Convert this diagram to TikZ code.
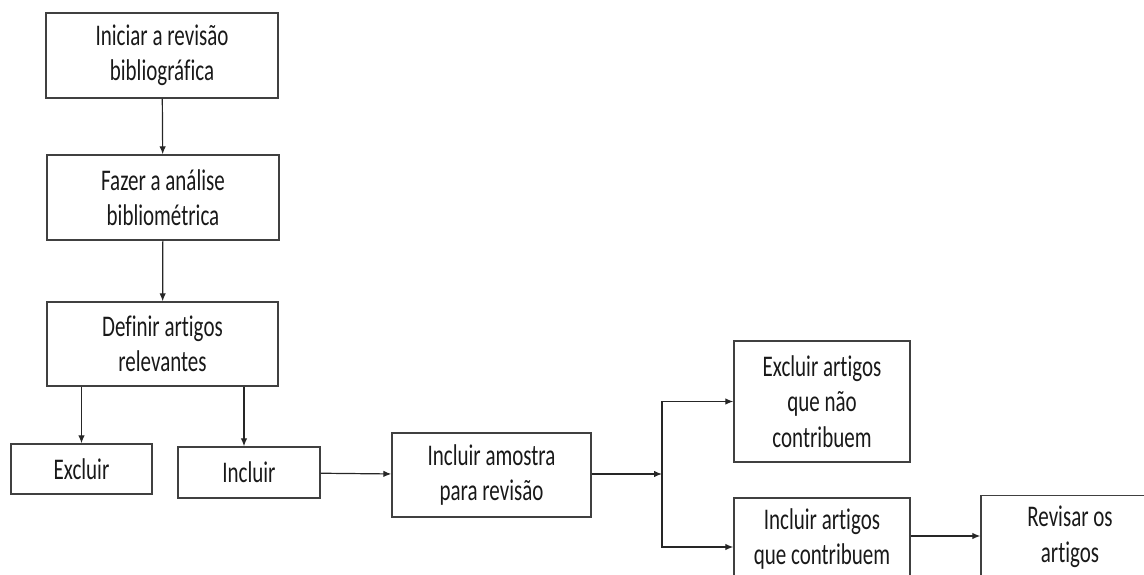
\documentclass[tikz,border=0pt]{standalone}
\usepackage{fontspec}
\newfontfamily\boxfont{Carlito}[FakeStretch=0.70, Ligatures=NoCommon]
\usetikzlibrary{arrows.meta,calc,positioning}
\tikzset{
  stepbox/.style={draw=black!75, line width=1.4pt, align=center, inner sep=0pt,
    font=\boxfont\fontsize{30}{35.5}\selectfont, text=black!90},
  arr/.style={-{Latex[length=8pt,width=6.5pt]}, line width=1.2pt, black!85},
  link/.style={line width=1.2pt, black!85}
}
\begin{document}
\begin{tikzpicture}[x=1pt,y=-1pt]
  \useasboundingbox (0,0) rectangle (1144,575);
  \clip (0,0) rectangle (1144,575);
  \node[stepbox, minimum width=232pt, minimum height=85pt] (inicio) at (162,55.5) {Iniciar a revisão\\bibliográfica};
  \node[stepbox, minimum width=232pt, minimum height=85pt] (analise) at (163,197.5) {Fazer a análise\\bibliométrica};
  \node[stepbox, minimum width=231pt, minimum height=84pt] (definir) at (162.5,344) {Definir artigos\\relevantes};
  \node[stepbox, minimum width=141pt, minimum height=50pt] (excluir) at (81.5,469) {Excluir};
  \node[stepbox, minimum width=142pt, minimum height=51pt] (incluir) at (249,472.5) {Incluir};
  \node[stepbox, minimum width=199pt, minimum height=84pt] (amostra) at (491.5,475) {Incluir amostra\\para revisão};
  \node[stepbox, minimum width=176pt, minimum height=121pt] (naocontr) at (822,401.5) {Excluir artigos\\que não\\contribuem};
  \node[stepbox, minimum width=176pt, minimum height=82pt] (contr) at (822,539) {Incluir artigos\\que contribuem};
  \node[stepbox, minimum width=178pt, minimum height=83pt] (revisar) at (1070,537) {Revisar os\\artigos};
  \coordinate (fork) at (662,474);
  \draw[arr] (inicio) -- (analise);
  \draw[arr] (analise) -- (definir);
  \draw[arr] (definir.south -| excluir.north) -- (excluir.north);
  \draw[arr] ([xshift=-5pt]incluir.north |- definir.south) -- ([xshift=-5pt]incluir.north);
  \draw[arr] (incluir) -- (amostra);
  \draw[arr] (amostra.east |- fork) -- (fork);
  \draw[arr] (fork) |- (naocontr.west);
  \draw[arr] (fork) |- ([yshift=-8pt]contr.west);
  \draw[arr] ([yshift=3pt]contr.east) -- ([yshift=3pt]contr.east -| revisar.west);
\end{tikzpicture}
\end{document}
